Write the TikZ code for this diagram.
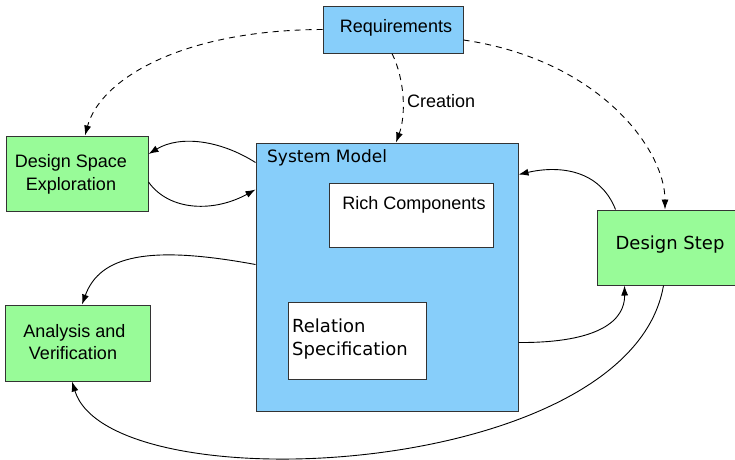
\documentclass[tikz,border=0pt]{standalone}
\usepackage{fontspec}
\setmainfont{Liberation Sans}
\newfontfamily\dejavu{DejaVu Sans}
\usetikzlibrary{arrows.meta,calc}
\definecolor{boxblue}{HTML}{87CEFA}
\definecolor{boxgreen}{HTML}{98FB98}
\definecolor{boxline}{HTML}{333333}
\tikzset{
  box/.style={draw=boxline, line width=1pt, inner sep=0pt, rectangle},
  bluebox/.style={box, fill=boxblue},
  greenbox/.style={box, fill=boxgreen},
  whitebox/.style={box, fill=white},
  txt/.style={inner sep=0pt, font=\fontsize{18}{22}\selectfont},
  djtxt/.style={inner sep=0pt, font=\dejavu\fontsize{18}{23}\selectfont},
  link/.style={line width=0.9pt, -{Latex[length=10pt,width=7pt]}},
  dlink/.style={link, dash pattern=on 6pt off 5pt},
}
\begin{document}
\begin{tikzpicture}[x=1pt,y=-1pt]
\useasboundingbox (0,0) rectangle (735,459);

% boxes
\node[bluebox, minimum width=140pt, minimum height=47pt] (req) at (393,29.5) {};
\node[greenbox, minimum width=142pt, minimum height=75pt] (dse) at (77,173.5) {};
\node[bluebox, minimum width=262pt, minimum height=268pt] (sm) at (387,277) {};
\node[whitebox, minimum width=164pt, minimum height=64pt] (rc) at (411,215) {};
\node[whitebox, minimum width=138pt, minimum height=77pt] (rs) at (357,340.5) {};
\node[greenbox, minimum width=138pt, minimum height=75pt] (ds) at (666,247.5) {};
\node[greenbox, minimum width=145pt, minimum height=76pt] (av) at (77.5,343) {};

% texts
\node[txt, anchor=base] (reqt) at (396,32) {Requirements};
\node[txt, anchor=base] (dset1) at (71,167) {Design Space};
\node[txt, anchor=base] (dset2) at (71,190) {Exploration};
\node[djtxt, anchor=base west, font=\dejavu\fontsize{17}{22}\selectfont] (smt) at (267,162) {System Model};
\node[txt, anchor=base] (rct) at (414,209) {Rich Components};
\node[djtxt, anchor=base west] (rst1) at (292,332) {Relation};
\node[djtxt, anchor=base west] (rst2) at (292,355) {Specification};
\node[djtxt, anchor=base] (dst) at (670,249) {Design Step};
\node[txt, anchor=base] (avt1) at (74.5,337) {Analysis and};
\node[txt, anchor=base] (avt2) at (73,359) {Verification};

% dashed links from the requirements
\draw[dlink] (req.west) .. controls (180,30) and (100,80) .. ([xshift=8pt]dse.north);
\draw[dlink] ([xshift=-1pt]req.south) .. controls (405,80) and (406,115) .. ([xshift=9pt]sm.north)
  node[pos=0.5, anchor=west, txt, xshift=4pt, yshift=-3pt] (cre) {Creation};
\draw[dlink] ([yshift=-10.5pt]req.east) .. controls (600,60) and (665,150) .. ([xshift=-1pt]ds.north);

% solid links
\draw[link] ([yshift=-20pt]sm.north west) .. controls (220,140) and (180,135) .. ([yshift=19.5pt]dse.east);
\draw[link] ([yshift=-8.5pt]dse.east) .. controls (170,212) and (215,212) .. ([yshift=-47pt]sm.north west);
\draw[link] ([yshift=-122pt]sm.north west) .. controls (150,245) and (100,255) .. ([xshift=4.5pt]av.north);
\draw[link] ([yshift=-200pt]sm.north east) .. controls (600,343) and (625,320) .. ([xshift=28pt]ds.south west);
\draw[link] ([xshift=19pt]ds.north west) .. controls (600,170) and (560,165) .. ([yshift=-32pt]sm.north east);
\draw[link] ([xshift=67pt]ds.south west) .. controls (630,480) and (110,505) .. ([xshift=-5.5pt]av.south);
\end{tikzpicture}
\end{document}
